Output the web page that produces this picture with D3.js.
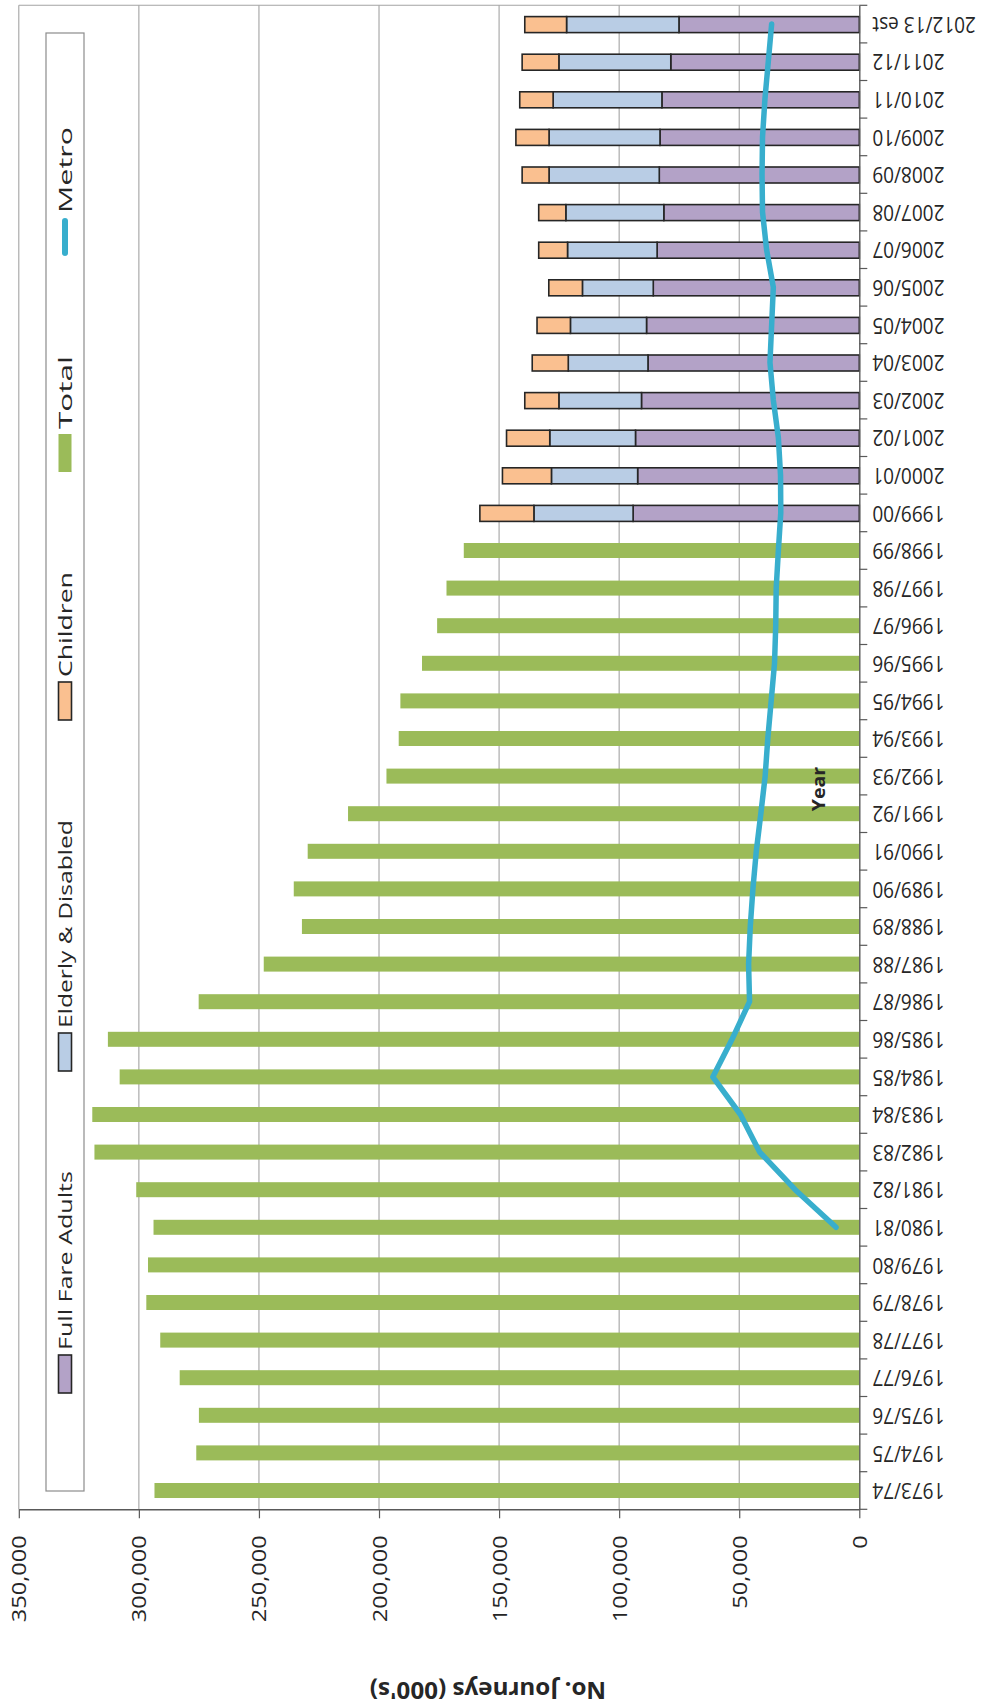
<!DOCTYPE html>
<html>
<head>
<meta charset="utf-8">
<script src="https://cdn.jsdelivr.net/npm/d3@7"></script>
<style>
  html, body { margin: 0; padding: 0; background: #fff; }
  svg { display: block; }
  text { font-family: "Open Sans", "Liberation Sans", sans-serif; }
</style>
</head>
<body>
<svg id="chart" width="982" height="1706"></svg>
<script>
// Financial years, oldest first
const years = [
  "1973/74", "1974/75", "1975/76", "1976/77", "1977/78", "1978/79", "1979/80",
  "1980/81", "1981/82", "1982/83", "1983/84", "1984/85", "1985/86", "1986/87",
  "1987/88", "1988/89", "1989/90", "1990/91", "1991/92", "1992/93", "1993/94",
  "1994/95", "1995/96", "1996/97", "1997/98", "1998/99", "1999/00", "2000/01",
  "2001/02", "2002/03", "2003/04", "2004/05", "2005/06", "2006/07", "2007/08",
  "2008/09", "2009/10", "2010/11", "2011/12", "2012/13 est"
];

// Total bus journeys (000's), only reported as a single figure up to 1998/99
const totalJourneys = [
  293500, 276100, 275000, 283000, 291100, 296900, 296200,
  293900, 301100, 318500, 319400, 308000, 312900, 275100,
  248000, 232100, 235500, 229700, 212900, 196900, 191800,
  191100, 182100, 175800, 171900, 164700, null, null,
  null, null, null, null, null, null, null,
  null, null, null, null, null
];

// Breakdown by passenger type from 1999/00 onwards (000's)
const fullFareAdults = [
  null, null, null, null, null, null, null,
  null, null, null, null, null, null, null,
  null, null, null, null, null, null, null,
  null, null, null, null, null, 94200, 92300,
  93200, 90700, 88000, 88600, 85800, 84200, 81400,
  83300, 83000, 82200, 78500, 75100
];
const elderlyDisabled = [
  null, null, null, null, null, null, null,
  null, null, null, null, null, null, null,
  null, null, null, null, null, null, null,
  null, null, null, null, null, 41300, 35900,
  35700, 34400, 33200, 31700, 29500, 37300, 40800,
  45900, 46200, 45300, 46600, 46800
];
const children = [
  null, null, null, null, null, null, null,
  null, null, null, null, null, null, null,
  null, null, null, null, null, null, null,
  null, null, null, null, null, 22500, 20400,
  18000, 14200, 15000, 13900, 14000, 12000, 11300,
  11200, 13800, 13900, 15300, 17400
];

// Metro journeys (000's), from the system's opening in 1980/81
const metro = [
  null, null, null, null, null, null, null,
  9700, 26700, 41500, 49500, 61000, 53000, 45700,
  46100, 45400, 44300, 42900, 41000, 39200, 38100,
  36700, 35300, 34800, 34600, 33700, 32700, 32800,
  33700, 35800, 37200, 36500, 35800, 38600, 40300,
  40500, 40300, 39300, 37900, 36500
];

const valueTicks = [0, 50000, 100000, 150000, 200000, 250000, 300000, 350000];
const seriesNames = ["Full Fare Adults", "Elderly & Disabled", "Children", "Total", "Metro"];

// ---- drawing ----
const svg = d3.select("#chart");
const plot = { left: 18.8, right: 859.3, top: 5.3, bottom: 1509.3 };
const COLORS = {
  ffa: "#b3a2c7", eld: "#b9cde5", chi: "#fac090",
  total: "#9bbb59", metro: "#38aecd",
  outline: "#262626", axis: "#595959", grid: "#a3a3a3", text: "#262626"
};

const x = d3.scaleLinear().domain([0, 350000]).range([plot.right, plot.left]);
const y = d3.scaleBand().domain(years).range([plot.bottom, plot.top]);
const step = y.step();
const mid = d => y(d) + step / 2;
const barH = 15;

// gridlines and plot border
svg.append("g").selectAll("line")
  .data(valueTicks.filter(t => t > 0))
  .join("line")
  .attr("x1", d => x(d)).attr("x2", d => x(d))
  .attr("y1", plot.top).attr("y2", plot.bottom)
  .attr("stroke", COLORS.grid).attr("stroke-width", 1.1);
svg.append("line")
  .attr("x1", plot.left).attr("x2", plot.right)
  .attr("y1", plot.top).attr("y2", plot.top)
  .attr("stroke", COLORS.grid).attr("stroke-width", 1.1);

// legend frame (sits inside the plot area)
const legend = svg.append("g");
legend.append("rect")
  .attr("x", 46).attr("y", 33).attr("width", 38).attr("height", 1458)
  .attr("fill", "#fff").attr("stroke", "#8c8c8c").attr("stroke-width", 1.2);

// total bars
const rows = years.map((yr, i) => ({
  year: yr, total: totalJourneys[i],
  ffa: fullFareAdults[i], eld: elderlyDisabled[i], chi: children[i],
  metro: metro[i]
}));

svg.append("g").selectAll("rect")
  .data(rows.filter(r => r.total != null))
  .join("rect")
  .attr("x", d => x(d.total))
  .attr("width", d => x(0) - x(d.total))
  .attr("y", d => mid(d.year) - barH / 2)
  .attr("height", barH)
  .attr("fill", COLORS.total);

// stacked breakdown bars
const keys = ["ffa", "eld", "chi"];
const stacked = d3.stack().keys(keys)(rows.filter(r => r.ffa != null));
svg.append("g").selectAll("g")
  .data(stacked)
  .join("g")
  .attr("fill", s => COLORS[s.key])
  .selectAll("rect")
  .data(s => s)
  .join("rect")
  .attr("x", d => x(d[1]))
  .attr("width", d => x(d[0]) - x(d[1]))
  .attr("y", d => mid(d.data.year) - barH / 2)
  .attr("height", barH + 1)
  .attr("stroke", COLORS.outline).attr("stroke-width", 1.6);

// metro line
const line = d3.line()
  .defined(d => d.metro != null)
  .x(d => x(d.metro))
  .y(d => mid(d.year));
svg.append("path")
  .datum(rows)
  .attr("d", line)
  .attr("fill", "none")
  .attr("stroke", COLORS.metro)
  .attr("stroke-width", 5.5)
  .attr("stroke-linejoin", "round")
  .attr("stroke-linecap", "round");

// category axis (right side), labels upside down
const yAxis = svg.append("g")
  .attr("transform", `translate(${plot.right},0)`)
  .call(d3.axisRight(y).tickSize(0).tickSizeOuter(0));
yAxis.select(".domain").attr("stroke", COLORS.axis).attr("stroke-width", 1.4);
yAxis.selectAll(".tick text")
  .attr("x", null).attr("y", null)
  .attr("dy", "0.35em")
  .attr("text-anchor", "end")
  .attr("transform", "translate(13,0) rotate(180) scale(1,1.1)")
  .attr("font-size", 19)
  .attr("fill", COLORS.text);
yAxis.selectAll(".boundary")
  .data(years.map(d => y(d)).concat([plot.bottom]))
  .join("line")
  .attr("class", "boundary")
  .attr("x1", 0).attr("x2", 8)
  .attr("y1", d => d).attr("y2", d => d)
  .attr("stroke", COLORS.axis).attr("stroke-width", 1.2);

// value axis (bottom), labels reading upwards
const xAxis = svg.append("g")
  .attr("transform", `translate(0,${plot.bottom})`)
  .call(d3.axisBottom(x).tickValues(valueTicks).tickSize(9).tickSizeOuter(0)
    .tickFormat(d3.format(",")));
xAxis.select(".domain").attr("stroke", COLORS.axis).attr("stroke-width", 1.4);
xAxis.selectAll(".tick line").attr("stroke", COLORS.axis).attr("stroke-width", 1.2);
xAxis.selectAll(".tick text")
  .attr("x", null).attr("y", null)
  .attr("dy", "0.35em")
  .attr("text-anchor", "end")
  .attr("transform", "translate(0,26) rotate(-90) scale(1.18,1)")
  .attr("font-size", 20)
  .attr("fill", COLORS.text);

// axis titles
svg.append("text")
  .attr("transform", "translate(488,1690) rotate(180) scale(1.1,1.05)")
  .attr("text-anchor", "middle").attr("dy", "0.35em")
  .attr("font-size", 22).attr("font-weight", "bold")
  .attr("fill", COLORS.text)
  .text("No. Journeys (000's)");

svg.append("text")
  .attr("transform", "translate(819,789) rotate(-90) scale(1.15,1)")
  .attr("text-anchor", "middle").attr("dy", "0.35em")
  .attr("font-size", 17).attr("font-weight", "bold")
  .attr("fill", COLORS.text)
  .text("Year");

// legend entries, laid out from the bottom of the frame upwards;
// each label is stretched along its reading direction to its set length
const legendKeys = ["ffa", "eld", "chi", "total", "metro"];
const legendTextLen = [179, 208, 105, 73, 86];
let cursor = 1393;
const swatchLen = 38, gap = 5, itemSpacing = 100;
seriesNames.forEach((name, i) => {
  const key = legendKeys[i];
  if (key === "metro") {
    legend.append("line")
      .attr("x1", 65).attr("x2", 65)
      .attr("y1", cursor - 3).attr("y2", cursor - swatchLen + 3)
      .attr("stroke", COLORS.metro).attr("stroke-width", 6)
      .attr("stroke-linecap", "round");
  } else {
    legend.append("rect")
      .attr("x", 58.5).attr("width", 13)
      .attr("y", cursor - swatchLen).attr("height", swatchLen)
      .attr("fill", COLORS[key])
      .attr("stroke", key === "total" ? "none" : COLORS.outline)
      .attr("stroke-width", 1.6);
  }
  const start = cursor - swatchLen - gap;
  const t = legend.append("text")
    .attr("text-anchor", "start").attr("dy", "0.35em")
    .attr("font-size", 19)
    .attr("fill", COLORS.text)
    .text(name);
  const k = legendTextLen[i] / t.node().getComputedTextLength();
  t.attr("transform", `translate(65,${start}) rotate(-90) scale(${k},1)`);
  cursor = start - legendTextLen[i] - itemSpacing;
});
</script>
</body>
</html>
